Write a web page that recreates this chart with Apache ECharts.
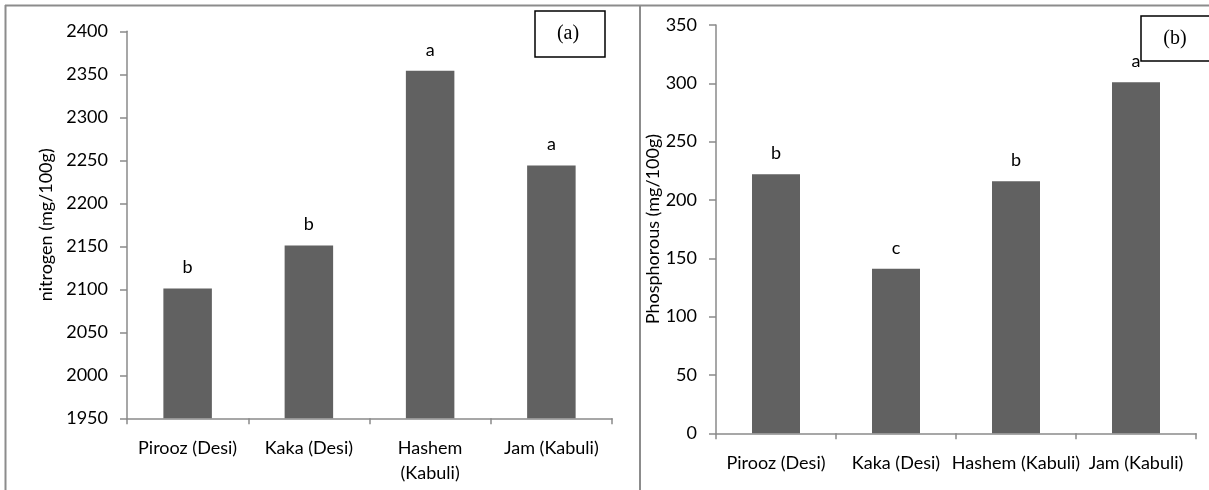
<!DOCTYPE html>
<html>
<head>
<meta charset="utf-8">
<script src="https://cdn.jsdelivr.net/npm/echarts@6/dist/echarts.min.js"></script>
<style>
html,body{margin:0;padding:0;background:#fff;}
#chart{width:1209px;height:490px;}
</style>
</head>
<body>
<div id="chart"></div>
<script>
// ---- data ----
const categories = ['Pirooz (Desi)', 'Kaka (Desi)', 'Hashem (Kabuli)', 'Jam (Kabuli)'];
const nitrogen = [2101, 2151, 2354, 2244];
const nitrogenLetters = ['b', 'b', 'a', 'a'];
const phosphorous = [222, 141, 216, 301];
const phosphorousLetters = ['b', 'c', 'b', 'a'];
const nitrogenTicks = { min: 1950, max: 2400, interval: 50 };
const phosphorousTicks = { min: 0, max: 350, interval: 50 };
const nitrogenName = 'nitrogen (mg/100g)';
const phosphorousName = 'Phosphorous (mg/100g)';
const panelLabels = ['(a)', '(b)'];

const FONT = 'Lato';
const FS = 18;
const AXIS_COLOR = '#8a8a8a';
const BAR_COLOR = '#616161';
const TEXT_COLOR = '#000';

const chart = echarts.init(document.getElementById('chart'), null, { renderer: 'canvas' });

function xAxisDef(gridIndex, wrap) {
  return {
    type: 'category', gridIndex, data: categories,
    boundaryGap: true,
    axisLine: { lineStyle: { color: AXIS_COLOR, width: 1.5 } },
    axisTick: { show: true, length: 6, interval: 0, lineStyle: { color: AXIS_COLOR, width: 1.5 } },
    axisLabel: {
      interval: 0, margin: 17, color: TEXT_COLOR, fontFamily: FONT, fontSize: FS, lineHeight: 25,
      formatter: v => (wrap && v.length > 14) ? v.replace(' ', '\n') : v
    },
    splitLine: { show: false }
  };
}
function yAxisDef(gridIndex, ticks, name, gap) {
  return {
    type: 'value', gridIndex, min: ticks.min, max: ticks.max, interval: ticks.interval,
    name, nameLocation: 'middle', nameGap: gap,
    nameTextStyle: { color: TEXT_COLOR, fontFamily: FONT, fontSize: FS },
    axisLine: { show: true, lineStyle: { color: AXIS_COLOR, width: 1.5 } },
    axisTick: { show: true, length: 7, lineStyle: { color: AXIS_COLOR, width: 1.5 } },
    axisLabel: { margin: 19, color: TEXT_COLOR, fontFamily: FONT, fontSize: FS, formatter: v => String(v) },
    splitLine: { show: false }
  };
}
function barSeries(idx, values, letters) {
  return {
    type: 'bar', xAxisIndex: idx, yAxisIndex: idx, data: values, barWidth: '40%',
    itemStyle: { color: BAR_COLOR },
    label: {
      show: true, position: 'top', distance: 12, color: TEXT_COLOR, fontFamily: FONT, fontSize: FS,
      formatter: p => letters[p.dataIndex]
    },
    silent: true, animation: false
  };
}

const frame = { stroke: '#8c8c8c', lineWidth: 2 };
const option = {
  animation: false,
  grid: [
    { left: 127, right: 597, top: 31.3, bottom: 71.7 },
    { left: 716, right: 13, top: 25, bottom: 56.7 }
  ],
  xAxis: [xAxisDef(0, true), xAxisDef(1, false)],
  yAxis: [yAxisDef(0, nitrogenTicks, nitrogenName, 72), yAxisDef(1, phosphorousTicks, phosphorousName, 54)],
  series: [barSeries(0, nitrogen, nitrogenLetters), barSeries(1, phosphorous, phosphorousLetters)],
  graphic: [
    { type: 'line', z: 100, shape: { x1: 5, y1: 5.5, x2: 1209, y2: 5.5 }, style: frame },
    { type: 'line', z: 100, shape: { x1: 5.5, y1: 5, x2: 5.5, y2: 490 }, style: frame },
    { type: 'line', z: 100, shape: { x1: 640, y1: 5, x2: 640, y2: 490 }, style: frame },
    { type: 'rect', z: 100, shape: { x: 535, y: 11, width: 70, height: 46 },
      style: { fill: '#fff', stroke: '#000', lineWidth: 1.5 } },
    { type: 'text', z: 101, x: 568, y: 34,
      style: { text: panelLabels[0], fill: '#000', font: '20px "Liberation Serif"', textAlign: 'center', textVerticalAlign: 'middle' } },
    { type: 'rect', z: 100, shape: { x: 1141, y: 16, width: 80, height: 45 },
      style: { fill: '#fff', stroke: '#000', lineWidth: 1.5 } },
    { type: 'text', z: 101, x: 1175, y: 39,
      style: { text: panelLabels[1], fill: '#000', font: '20px "Liberation Serif"', textAlign: 'center', textVerticalAlign: 'middle' } }
  ]
};
chart.setOption(option);
</script>
</body>
</html>
